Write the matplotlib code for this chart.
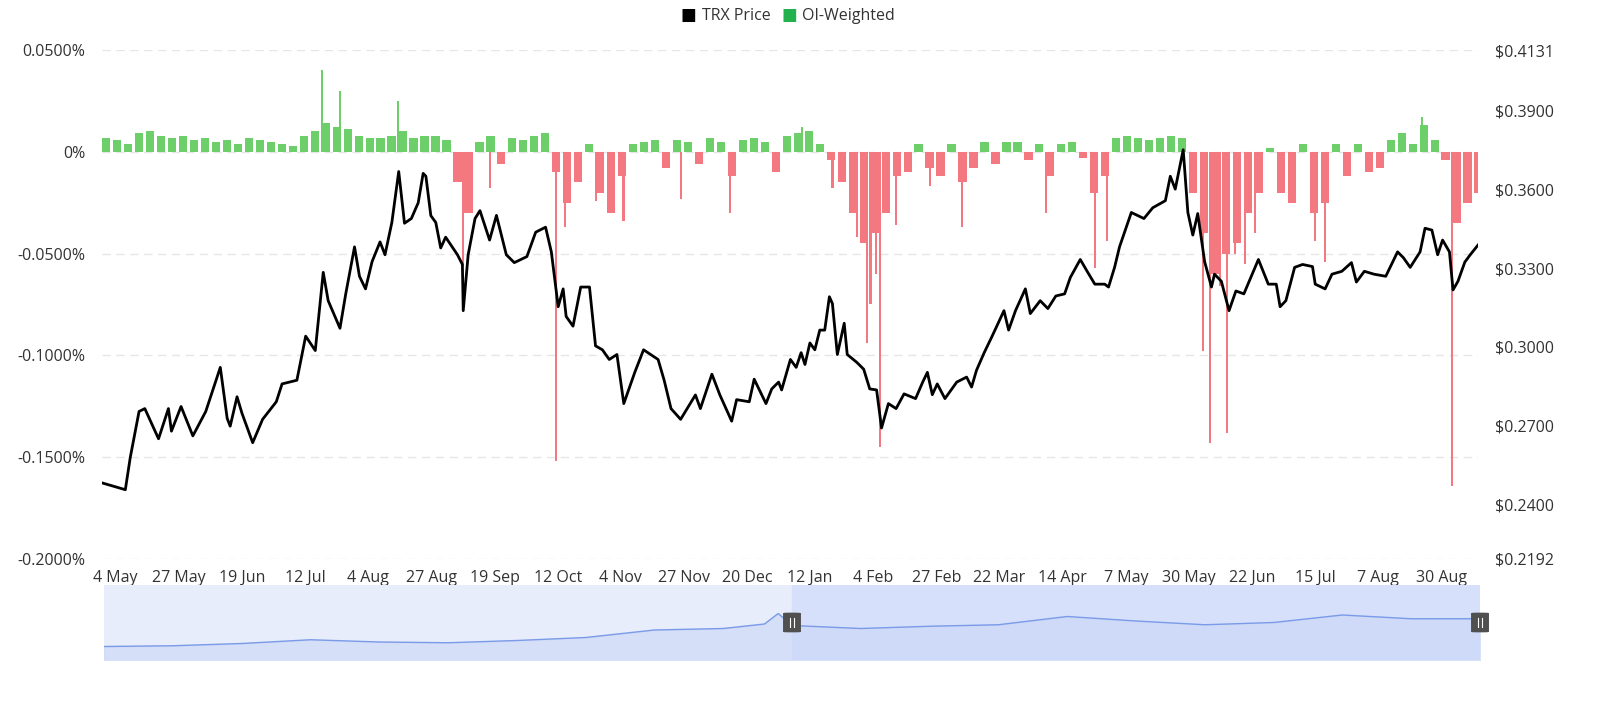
import numpy as np
import matplotlib
matplotlib.use("Agg")
import matplotlib.pyplot as plt
from matplotlib.patches import FancyBboxPatch, Rectangle
import matplotlib.dates as mdates

plt.rcParams['font.family'] = ['Open Sans', 'DejaVu Sans']

START = np.datetime64('2024-04-29')

# TRX price: (day offset from START, price)
price_days = [0, 8.5, 10.3, 13.5, 15.6, 20.6, 24.2, 25.3, 28.8, 33.1, 37.8, 43.1, 45.6, 46.7, 49.2, 51.0,
              54.9, 58.5, 63.5, 65.6, 71.0, 74.2, 77.7, 80.6, 82.4, 86.7, 88.8, 92.0, 93.8, 96.0, 98.4,
              101.3, 103.1, 105.6, 108.1, 110.2, 112.7, 115.2, 117.0, 118.0, 119.8, 121.6, 123.4, 125.2,
              129.5, 131.3, 131.6, 133.4, 135.9, 137.7, 141.2, 143.7, 147.3, 150.2, 154.8, 158.0, 161.6,
              163.7, 166.2, 168.0, 169.1, 171.6, 174.4, 177.6, 179.8, 182.3, 184.8, 187.6, 190.1, 194.1,
              197.3, 202.6, 204.8, 207.3, 210.8, 216.2, 218.0, 222.2, 225.1, 229.4, 231.2, 235.8, 237.6,
              241.9, 244.0, 246.5, 247.6, 250.8, 252.9, 254.7, 256.1, 257.9, 259.7, 261.5, 263.3, 265.0,
              266.1, 267.9, 270.4, 271.5, 275.0, 277.5, 279.7, 282.2, 284.0, 286.5, 289.3, 292.2, 296.4,
              299.0, 300.7, 302.5, 304.3, 307.1, 311.4, 315.0, 316.8, 318.6, 321.4, 324.3, 328.6, 330.3,
              332.8, 336.4, 338.2, 341.8, 344.6, 347.5, 350.7, 352.8, 356.4, 358.9, 361.7, 365.3, 366.7,
              368.9, 370.7, 375.0, 379.6, 382.8, 387.4, 389.2, 391.0, 393.9, 395.6, 397.4, 399.2, 401.7,
              404.2, 405.3, 407.8, 410.6, 413.1, 416.0, 421.3, 424.9, 427.8, 429.2, 431.3, 434.5, 437.4,
              441.0, 442.0, 445.6, 448.1, 451.7, 455.2, 457.0, 459.9, 463.4, 467.7, 472.0, 474.1, 476.6,
              480.2, 482.0, 484.5, 486.6, 488.4, 490.9, 492.2, 494.0, 496.5, 498.4, 501.3]
price_vals = [0.2482, 0.2456, 0.2579, 0.2754, 0.2765, 0.2650, 0.2765, 0.2679, 0.2773, 0.2661, 0.2754, 0.2922,
              0.2728, 0.2698, 0.2810, 0.2747, 0.2635, 0.2724, 0.2791, 0.2859, 0.2873, 0.3041, 0.2986, 0.3284,
              0.3176, 0.3071, 0.3202, 0.3381, 0.3269, 0.3221, 0.3325, 0.3400, 0.3351, 0.3474, 0.3668, 0.3471,
              0.3489, 0.3549, 0.3661, 0.3650, 0.3500, 0.3474, 0.3377, 0.3418, 0.3351, 0.3314, 0.3138, 0.3351,
              0.3489, 0.3519, 0.3407, 0.3501, 0.3351, 0.3321, 0.3344, 0.3437, 0.3456, 0.3362, 0.3153, 0.3221,
              0.3116, 0.3079, 0.3228, 0.3228, 0.3004, 0.2989, 0.2952, 0.2971, 0.2784, 0.2903, 0.2989, 0.2952,
              0.2873, 0.2765, 0.2724, 0.2817, 0.2765, 0.2896, 0.2817, 0.2717, 0.2799, 0.2791, 0.2877, 0.2784,
              0.2840, 0.2866, 0.2836, 0.2952, 0.2922, 0.2978, 0.2933, 0.3015, 0.2989, 0.3064, 0.3064, 0.3191,
              0.3165, 0.2971, 0.3090, 0.2971, 0.2941, 0.2915, 0.2840, 0.2836, 0.2691, 0.2784, 0.2765, 0.2821,
              0.2803, 0.2866, 0.2903, 0.2818, 0.2859, 0.2803, 0.2866, 0.2885, 0.2847, 0.2911, 0.2978, 0.3041,
              0.3138, 0.3064, 0.3138, 0.3221, 0.3127, 0.3176, 0.3146, 0.3194, 0.3202, 0.3265, 0.3333, 0.3288,
              0.3239, 0.3239, 0.3228, 0.3303, 0.3381, 0.3512, 0.3489, 0.3530, 0.3557, 0.3650, 0.3601, 0.3751,
              0.3512, 0.3426, 0.3508, 0.3325, 0.3228, 0.3277, 0.3250, 0.3138, 0.3213, 0.3202, 0.3333, 0.3239,
              0.3239, 0.3153, 0.3176, 0.3303, 0.3314, 0.3306, 0.3239, 0.3221, 0.3277, 0.3288, 0.3321, 0.3247,
              0.3288, 0.3277, 0.3269, 0.3362, 0.3340, 0.3303, 0.3362, 0.3452, 0.3445, 0.3351, 0.3407, 0.3362,
              0.3217, 0.3250, 0.3323, 0.3350, 0.3388]

# OI-weighted funding rate (%), one value per 4 days
funding_base = [0.007, 0.006, 0.004, 0.009, 0.010, 0.008, 0.007, 0.008, 0.006, 0.007, 0.005, 0.006, 0.004,
                0.007, 0.006, 0.005, 0.004, 0.003, 0.008, 0.010, 0.014, 0.012, 0.011, 0.008, 0.007, 0.007,
                0.008, 0.010, 0.007, 0.008, 0.008, 0.006, -0.015, -0.030, 0.005, 0.008, -0.006, 0.007, 0.006,
                0.008, 0.009, -0.010, -0.025, -0.015, 0.004, -0.020, -0.030, -0.012, 0.004, 0.005, 0.006,
                -0.008, 0.006, 0.005, -0.006, 0.007, 0.005, -0.012, 0.006, 0.007, 0.005, -0.010, 0.008, 0.009,
                0.010, 0.004, -0.004, -0.015, -0.030, -0.045, -0.040, -0.030, -0.012, -0.010, 0.004, -0.008,
                -0.012, 0.004, -0.015, -0.008, 0.005, -0.006, 0.005, 0.005, -0.004, 0.004, -0.012, 0.004,
                0.005, -0.003, -0.020, -0.012, 0.007, 0.008, 0.007, 0.006, 0.007, 0.008, 0.007, -0.020, -0.040,
                -0.060, -0.050, -0.045, -0.030, -0.020, 0.002, -0.020, -0.025, 0.004, -0.030, -0.025, 0.004,
                -0.012, 0.004, -0.010, -0.008, 0.006, 0.009, 0.004, 0.013, 0.006, -0.004, -0.035, -0.025, -0.020]
# isolated funding spikes: (day offset, %)
spike_days = [80.1, 86.7, 107.8, 131.5, 141.5, 165.4, 168.6, 179.9, 190.0, 210.8, 228.7, 255.0, 266.1, 275.0,
              278.7, 280.0, 282.0, 283.4, 289.3, 301.6, 313.3, 343.9, 361.7, 366.1, 401.1, 403.6, 405.5,
              407.3, 409.8, 412.8, 416.4, 420.0, 441.9, 445.5, 480.9, 491.8]
spike_vals = [0.040, 0.030, 0.025, -0.056, -0.018, -0.152, -0.037, -0.024, -0.034, -0.023, -0.030, 0.012,
              -0.018, -0.042, -0.094, -0.075, -0.060, -0.145, -0.036, -0.017, -0.037, -0.030, -0.057, -0.044,
              -0.098, -0.143, -0.060, -0.066, -0.138, -0.050, -0.055, -0.040, -0.044, -0.054, 0.017, -0.164]

# navigator overview line (relative level)
nav_pos = [0.0, 0.05, 0.1, 0.15, 0.2, 0.25, 0.3, 0.35, 0.4, 0.45, 0.48, 0.49, 0.5, 0.55, 0.6, 0.65, 0.7,
           0.75, 0.8, 0.85, 0.9, 0.95, 1.0]
nav_vals = [0.18, 0.19, 0.22, 0.27, 0.24, 0.23, 0.26, 0.30, 0.40, 0.42, 0.48, 0.62, 0.46, 0.42, 0.45,
            0.47, 0.58, 0.52, 0.47, 0.50, 0.60, 0.55, 0.55]

GREEN = '#6ccf6a'
RED = '#f47880'
TXT = '#333333'

fig = plt.figure(figsize=(16, 7.13), dpi=100)
ax = fig.add_axes([102/1600, 1-559/713, (1478-102)/1600, (559-50)/713])
ax2 = ax.twinx()

fb = np.array(funding_base)
fdates = START + np.arange(len(fb)) * np.timedelta64(4, 'D')
fnum = mdates.date2num(fdates.astype('datetime64[s]').astype(object))
ax.bar(fnum, fb, width=3.0, color=[GREEN if v >= 0 else RED for v in fb], linewidth=0, align='edge')
sd = np.array(spike_days)
snum = mdates.date2num(START.astype('datetime64[s]').astype(object)) + sd
ax.bar(snum, spike_vals, width=0.8, color=[GREEN if v >= 0 else RED for v in spike_vals], linewidth=0)

pnum = mdates.date2num(START.astype('datetime64[s]').astype(object)) + np.array(price_days)
ax2.plot(pnum, price_vals, color='black', lw=2)

ax.set_ylim(-0.2, 0.05)
ax2.set_ylim(0.2192, 0.4131)
x0 = mdates.date2num(START.astype('datetime64[s]').astype(object))
ax.set_xlim(x0, x0 + 501.3)

lt = [0.05, 0, -0.05, -0.1, -0.15, -0.2]
ax.set_yticks(lt)
ax.set_yticklabels(['0.0500%', '0%', '-0.0500%', '-0.1000%', '-0.1500%', '-0.2000%'])
rt = [0.4131, 0.39, 0.36, 0.33, 0.30, 0.27, 0.24, 0.2192]
ax2.set_yticks(rt)
ax2.set_yticklabels(['$' + f'{v:.4f}' for v in rt])
for a in (ax, ax2):
    for s in a.spines.values():
        s.set_visible(False)
    a.tick_params(length=0, labelsize=11.5, colors=TXT)
ax.tick_params(axis='y', pad=12)
ax2.tick_params(axis='y', pad=12)
for v in lt:
    ax.axhline(v, color='#e6e6e6', lw=1, ls=(0, (6, 4)), zorder=0)

tick_dates = np.datetime64('2024-05-04') + np.arange(22) * np.timedelta64(23, 'D')
tick_labels = ['4 May', '27 May', '19 Jun', '12 Jul', '4 Aug', '27 Aug', '19 Sep', '12 Oct', '4 Nov',
               '27 Nov', '20 Dec', '12 Jan', '4 Feb', '27 Feb', '22 Mar', '14 Apr', '7 May', '30 May',
               '22 Jun', '15 Jul', '7 Aug', '30 Aug']
ax.set_xticks(mdates.date2num(tick_dates.astype('datetime64[s]').astype(object)))
ax.set_xticklabels(tick_labels)
ax.tick_params(axis='x', pad=8)

# legend
fig.text(0.4305, 0.978, '■', color='black', fontsize=12, va='center', ha='center')
fig.text(0.4385, 0.978, 'TRX Price', color=TXT, fontsize=11.5, va='center')
fig.text(0.4935, 0.978, '■', color='#22b14c', fontsize=12, va='center', ha='center')
fig.text(0.5015, 0.978, 'OI-Weighted', color=TXT, fontsize=11.5, va='center')

# navigator
nav = fig.add_axes([104/1600, 1-660/713, (1480-104)/1600, 75/713])
nav.set_xlim(0, 1)
nav.set_ylim(0, 1)
nav.axis('off')
nav.add_patch(Rectangle((0, 0), 1, 1, color='#e8edfb', zorder=0))
sel0 = (792-104)/(1480-104)
nav.add_patch(Rectangle((sel0, 0), 1-sel0, 1, color='#d6e0fb', zorder=0))
nav.fill_between(nav_pos, nav_vals, color='#c9d6f7', alpha=0.6, zorder=1)
nav.plot(nav_pos, nav_vals, color='#7b9be8', lw=1, zorder=2)
for hx in (sel0, 1.0):
    nav.add_patch(FancyBboxPatch((hx-0.004, 0.38), 0.008, 0.24, boxstyle='round,pad=0.002,rounding_size=0.004',
                                 fc='#505050', ec='#505050', zorder=3, clip_on=False))
    nav.plot([hx-0.0012, hx-0.0012], [0.44, 0.56], color='white', lw=0.8, zorder=4, clip_on=False)
    nav.plot([hx+0.0012, hx+0.0012], [0.44, 0.56], color='white', lw=0.8, zorder=4, clip_on=False)

fig.savefig('out.png', dpi=100)
